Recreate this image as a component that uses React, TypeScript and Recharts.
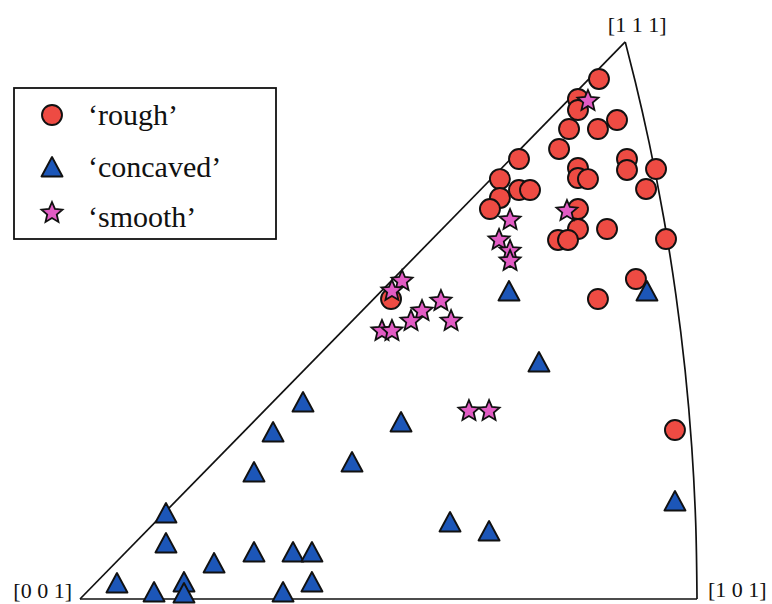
import { ScatterChart, Scatter, XAxis, YAxis, ReferenceLine, Legend } from 'recharts';

// stereographic coordinates of the poles
const rough = [
  { x: 0.3484, y: 0.3417 }, { x: 0.3343, y: 0.3285 }, { x: 0.3343, y: 0.3213 },
  { x: 0.3283, y: 0.3088 }, { x: 0.3477, y: 0.3088 }, { x: 0.3605, y: 0.3147 },
  { x: 0.3216, y: 0.2957 }, { x: 0.2947, y: 0.2891 }, { x: 0.3672, y: 0.2891 },
  { x: 0.3672, y: 0.2819 }, { x: 0.3867, y: 0.2825 }, { x: 0.3343, y: 0.2832 },
  { x: 0.3343, y: 0.2766 }, { x: 0.341, y: 0.2759 }, { x: 0.2819, y: 0.2759 },
  { x: 0.2947, y: 0.2687 }, { x: 0.3021, y: 0.2687 }, { x: 0.38, y: 0.2694 },
  { x: 0.2819, y: 0.2635 }, { x: 0.2752, y: 0.2562 }, { x: 0.3343, y: 0.2562 },
  { x: 0.3343, y: 0.2431 }, { x: 0.3538, y: 0.2431 }, { x: 0.3209, y: 0.2359 },
  { x: 0.3276, y: 0.2359 }, { x: 0.3934, y: 0.2365 }, { x: 0.3732, y: 0.2102 },
  { x: 0.3477, y: 0.1971 }, { x: 0.2088, y: 0.1971 }, { x: 0.3994, y: 0.111 },
];

const concaved = [
  { x: 0.288, y: 0.2024 }, { x: 0.3806, y: 0.2024 }, { x: 0.3081, y: 0.1557 },
  { x: 0.2155, y: 0.1163 }, { x: 0.1497, y: 0.1294 }, { x: 0.1296, y: 0.1097 },
  { x: 0.1168, y: 0.0834 }, { x: 0.1826, y: 0.09 }, { x: 0.0577, y: 0.0565 },
  { x: 0.0577, y: 0.0368 }, { x: 0.0248, y: 0.0105 }, { x: 0.0497, y: 0.0046 },
  { x: 0.0698, y: 0.0112 }, { x: 0.0698, y: 0.0039 }, { x: 0.09, y: 0.0237 },
  { x: 0.1168, y: 0.0309 }, { x: 0.143, y: 0.0309 }, { x: 0.1557, y: 0.0309 },
  { x: 0.1557, y: 0.0112 }, { x: 0.1363, y: 0.0046 }, { x: 0.2484, y: 0.0506 },
  { x: 0.2746, y: 0.0447 }, { x: 0.3994, y: 0.0644 },
];

const smooth = [
  { x: 0.341, y: 0.3272 }, { x: 0.3269, y: 0.2549 }, { x: 0.2887, y: 0.249 },
  { x: 0.2813, y: 0.2359 }, { x: 0.2887, y: 0.2286 }, { x: 0.2887, y: 0.2221 },
  { x: 0.2162, y: 0.2089 }, { x: 0.2094, y: 0.2024 }, { x: 0.2423, y: 0.1958 },
  { x: 0.2296, y: 0.1892 }, { x: 0.2222, y: 0.1826 }, { x: 0.2491, y: 0.1826 },
  { x: 0.2027, y: 0.1761 }, { x: 0.2094, y: 0.1761 }, { x: 0.2611, y: 0.1235 },
  { x: 0.2746, y: 0.1235 },
];

// triangle corners and the [101]-[111] great circle
const vertices = [
  { x: 0, y: 0, name: '[0 0 1]' },
  { x: 0.4142, y: 0, name: '[1 0 1]' },
  { x: 0.366, y: 0.366, name: '[1 1 1]' },
];
const arc = [
  { x: 0.41421, y: 0 }, { x: 0.41333, y: 0.05 }, { x: 0.41067, y: 0.1 },
  { x: 0.40624, y: 0.15 }, { x: 0.4, y: 0.2 }, { x: 0.39194, y: 0.25 },
  { x: 0.38203, y: 0.3 }, { x: 0.37273, y: 0.34 }, { x: 0.36603, y: 0.366 },
];

const RED = '#ee4b43';
const BLUE = '#1c56b8';
const PINK = '#e25cc4';
const INK = '#111';
const SERIF = '"Liberation Serif", "Times New Roman", serif';

function starPoints(cx: number, cy: number, R: number, r: number) {
  const pts: string[] = [];
  for (let i = 0; i < 10; i++) {
    const a = (-90 + i * 36) * (Math.PI / 180);
    const rad = i % 2 === 0 ? R : r;
    pts.push(`${cx + rad * Math.cos(a)},${cy + rad * Math.sin(a)}`);
  }
  return pts.join(' ');
}

const Circle = (p: any) => (
  <circle cx={p.cx} cy={p.cy} r={10} fill={RED} stroke={INK} strokeWidth={1.9} />
);
const Tri = (p: any) => (
  <polygon
    points={`${p.cx},${p.cy - 10} ${p.cx - 10.5},${p.cy + 9.5} ${p.cx + 10.5},${p.cy + 9.5}`}
    fill={BLUE}
    stroke={INK}
    strokeWidth={1.9}
    strokeLinejoin="round"
  />
);
const Star = (p: any) => (
  <polygon points={starPoints(p.cx, p.cy, 11, 5)} fill={PINK} stroke={INK} strokeWidth={1.8} />
);

const VertexLabel = (p: any) => {
  const name = p.payload?.name ?? p.name;
  let x = p.cx;
  let y = p.cy;
  let anchor: 'start' | 'middle' | 'end' = 'middle';
  if (name === '[0 0 1]') { x -= 8; y -= 1; anchor = 'end'; }
  else if (name === '[1 0 1]') { x += 11; y -= 2; anchor = 'start'; }
  else { x += 12; y -= 10; }
  return (
    <text x={x} y={y} textAnchor={anchor} fontFamily={SERIF} fontSize={22} fill={INK}>
      {name}
    </text>
  );
};

const LegendBox = () => (
  <svg width={264} height={153} style={{ display: 'block' }}>
    <rect x={1} y={1} width={262} height={151} fill="#fff" stroke={INK} strokeWidth={1.8} />
    <circle cx={39} cy={28} r={10} fill={RED} stroke={INK} strokeWidth={1.9} />
    <polygon points="39,70 28.5,89.5 49.5,89.5" fill={BLUE} stroke={INK} strokeWidth={1.9} strokeLinejoin="round" />
    <polygon points={starPoints(39, 126, 11, 5)} fill={PINK} stroke={INK} strokeWidth={1.8} />
    <g fontFamily={SERIF} fontSize={30} fill={INK}>
      <text x={75} y={38}>‘rough’</text>
      <text x={75} y={90}>‘concaved’</text>
      <text x={75} y={140}>‘smooth’</text>
    </g>
  </svg>
);

export default function App() {
  return (
    <div style={{ position: 'absolute', left: 0, top: 0, background: '#fff' }}>
      <ScatterChart width={772} height={604} margin={{ top: 0, right: 0, bottom: 0, left: 0 }}>
        <XAxis type="number" dataKey="x" domain={[-0.05371, 0.46455]} hide allowDataOverflow />
        <YAxis type="number" dataKey="y" domain={[-0.003285, 0.39356]} hide allowDataOverflow />
        <ReferenceLine segment={[{ x: 0, y: 0 }, { x: 0.4142, y: 0 }]} stroke={INK} strokeWidth={1.7} ifOverflow="visible" />
        <ReferenceLine segment={[{ x: 0, y: 0 }, { x: 0.366, y: 0.366 }]} stroke={INK} strokeWidth={1.7} ifOverflow="visible" />
        <Scatter
          data={arc}
          line={{ stroke: INK, strokeWidth: 1.7 }}
          lineJointType="monotoneY"
          shape={() => <g />}
          legendType="none"
          isAnimationActive={false}
        />
        <Scatter data={rough} shape={Circle} name="rough" isAnimationActive={false} />
        <Scatter data={concaved} shape={Tri} name="concaved" isAnimationActive={false} />
        <Scatter data={smooth} shape={Star} name="smooth" isAnimationActive={false} />
        <Scatter data={vertices} shape={VertexLabel} legendType="none" isAnimationActive={false} />
        <Legend
          layout="vertical"
          align="center"
          verticalAlign="middle"
          content={() => <LegendBox />}
          wrapperStyle={{ position: 'absolute', left: 13, top: 87, width: 264, height: 153 }}
        />
      </ScatterChart>
    </div>
  );
}
